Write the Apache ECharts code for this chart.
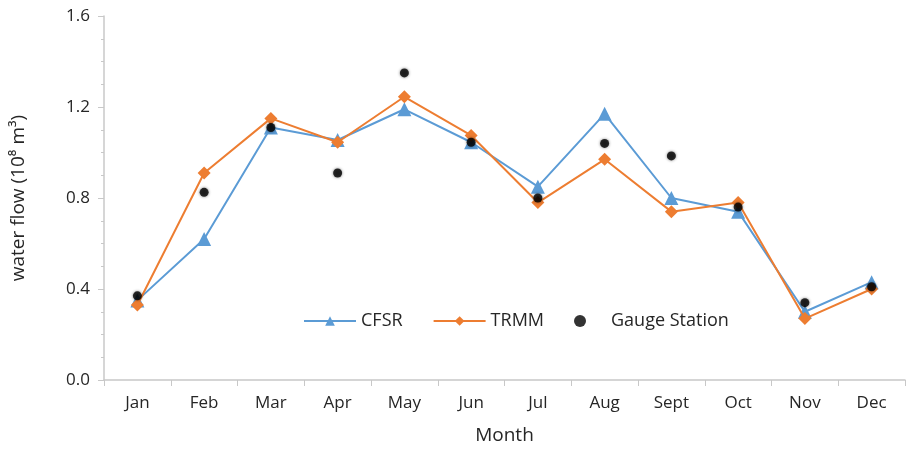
<!DOCTYPE html>
<html>
<head>
<meta charset="utf-8">
<script src="https://cdn.jsdelivr.net/npm/echarts@6/dist/echarts.min.js"></script>
<style>
  html, body { margin: 0; padding: 0; background: #fff; }
  #chart { width: 911px; height: 453px; }
</style>
</head>
<body>
<div id="chart"></div>
<script>
const months = ['Jan', 'Feb', 'Mar', 'Apr', 'May', 'Jun', 'Jul', 'Aug', 'Sept', 'Oct', 'Nov', 'Dec']
const cfsr = [0.35, 0.62, 1.11, 1.055, 1.19, 1.045, 0.85, 1.17, 0.80, 0.74, 0.30, 0.43]
const trmm = [0.33, 0.91, 1.15, 1.045, 1.245, 1.075, 0.78, 0.97, 0.74, 0.78, 0.27, 0.40]
const gauge = [0.37, 0.825, 1.11, 0.91, 1.35, 1.045, 0.80, 1.04, 0.985, 0.76, 0.34, 0.41]
const yTicks = [0, 0.4, 0.8, 1.2, 1.6]

const font = 'Open Sans'
const textColor = '#262626'
const axisGray = '#c8c8c8'

const chart = echarts.init(document.getElementById('chart'))
chart.setOption({
    animation: false,
    grid: { left: 104, right: 6, top: 16, bottom: 73 },
    legend: {
        left: 298,
        top: 307,
        itemGap: 30,
        itemWidth: 52,
        itemHeight: 12,
        textStyle: { fontFamily: font, fontSize: 18, color: textColor },
        data: ['CFSR', 'TRMM', 'Gauge Station']
    },
    xAxis: {
        type: 'category',
        data: months,
        name: 'Month',
        nameLocation: 'middle',
        nameGap: 46,
        nameTextStyle: { fontFamily: font, fontSize: 19, color: textColor },
        axisLine: { lineStyle: { color: axisGray, width: 1.5 } },
        axisTick: { show: true, length: 6, lineStyle: { color: axisGray } },
        axisLabel: { fontFamily: font, fontSize: 17, color: textColor, margin: 15 }
    },
    yAxis: {
        type: 'value',
        min: 0,
        max: 1.6,
        interval: 0.4,
        name: 'water flow (10⁸ m³)',
        nameLocation: 'middle',
        nameGap: 76,
        nameTextStyle: { fontFamily: font, fontSize: 19, color: textColor },
        axisLine: { show: true, lineStyle: { color: axisGray, width: 1.5 } },
        axisTick: { show: true, length: 6, lineStyle: { color: axisGray } },
        minorTick: { show: true, splitNumber: 4, length: 3, lineStyle: { color: axisGray } },
        splitLine: { show: false },
        axisLabel: {
            fontFamily: font, fontSize: 17, color: textColor, margin: 14,
            formatter: v => yTicks.includes(+v.toFixed(1)) ? v.toFixed(1) : ''
        }
    },
    series: [
        {
            name: 'CFSR',
            type: 'line',
            data: cfsr,
            symbol: 'triangle',
            symbolSize: 14,
            itemStyle: { color: '#5b9bd5' },
            lineStyle: { width: 2, color: '#5b9bd5' },
            z: 2
        },
        {
            name: 'TRMM',
            type: 'line',
            data: trmm,
            symbol: 'diamond',
            symbolSize: 13,
            itemStyle: { color: '#ed7d31' },
            lineStyle: { width: 2, color: '#ed7d31' },
            z: 3
        },
        {
            name: 'Gauge Station',
            type: 'scatter',
            data: gauge,
            symbol: 'circle',
            symbolSize: 9,
            itemStyle: { color: '#000', shadowBlur: 3, shadowColor: 'rgba(0,0,0,0.6)' },
            z: 4
        }
    ]
})
</script>
</body>
</html>
